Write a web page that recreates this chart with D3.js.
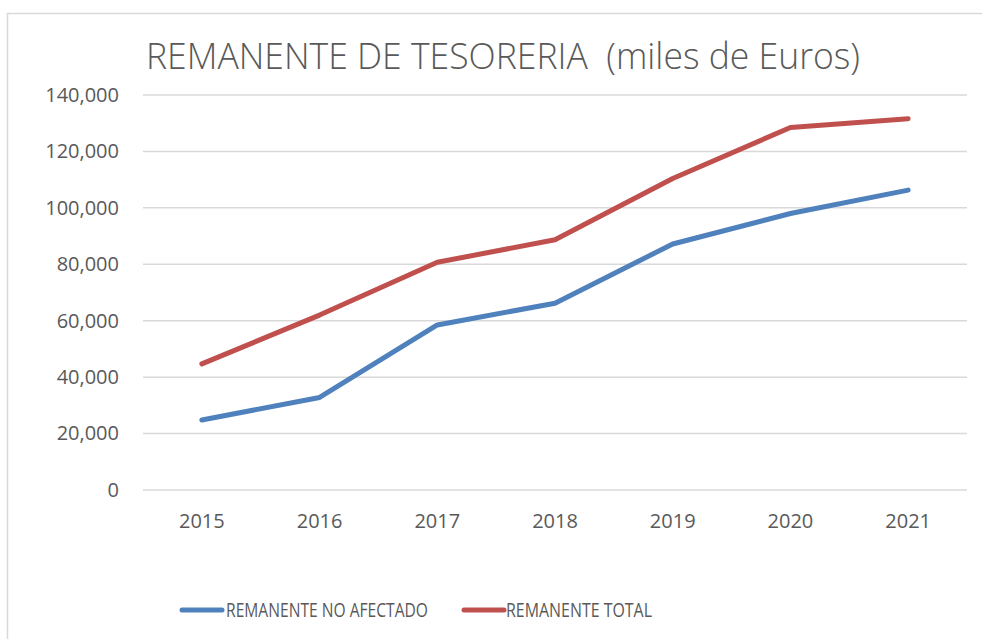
<!DOCTYPE html>
<html>
<head>
<meta charset="utf-8">
<script src="https://cdn.jsdelivr.net/npm/d3@7"></script>
<style>
  html, body { margin: 0; padding: 0; background: #fff; }
  svg { display: block; }
</style>
</head>
<body>
<svg id="chart" width="983" height="639"></svg>
<script>
const years = ["2015", "2016", "2017", "2018", "2019", "2020", "2021"];
const noAfectado = [24800, 32800, 58500, 66200, 87200, 98000, 106300];
const total = [44700, 62000, 80700, 88700, 110400, 128500, 131600];
const yTicks = [0, 20000, 40000, 60000, 80000, 100000, 120000, 140000];
const seriesNames = ["REMANENTE NO AFECTADO", "REMANENTE TOTAL"];
const seriesColors = ["#4f81bd", "#c0504d"];
const titleText = "REMANENTE DE TESORERIA  (miles de Euros)";

const svg = d3.select("#chart");

// frame
svg.append("path")
  .attr("d", "M7.5,639 L7.5,13.5 L982,13.5")
  .attr("fill", "none")
  .attr("stroke", "#d9d9d9")
  .attr("stroke-width", 1.5);

const plot = { left: 143, right: 967, top: 95, bottom: 490 };

const x = d3.scaleBand().domain(years).range([plot.left, plot.right]);
const y = d3.scaleLinear().domain([0, 140000]).range([plot.bottom, plot.top]);

// gridlines
svg.append("g")
  .selectAll("line")
  .data(yTicks)
  .join("line")
  .attr("x1", plot.left)
  .attr("x2", plot.right)
  .attr("y1", d => y(d))
  .attr("y2", d => y(d))
  .attr("stroke", "#d9d9d9")
  .attr("stroke-width", 1.5);

// y axis
const yAxis = d3.axisLeft(y).tickValues(yTicks).tickFormat(d3.format(",")).tickSize(0).tickPadding(24);
const gy = svg.append("g").attr("transform", `translate(${plot.left},0)`).call(yAxis);
gy.select(".domain").remove();
gy.selectAll("text")
  .attr("font-family", "'Open Sans', sans-serif")
  .attr("font-size", 20)
  .attr("fill", "#595959");

// x axis
const xAxis = d3.axisBottom(x).tickSize(0).tickPadding(24);
const gx = svg.append("g").attr("transform", `translate(0,${plot.bottom})`).call(xAxis);
gx.select(".domain").remove();
gx.selectAll("text")
  .attr("font-family", "'Open Sans', sans-serif")
  .attr("font-size", 20)
  .attr("fill", "#595959");

// lines
const line = d3.line()
  .x((d, i) => x(years[i]) + x.bandwidth() / 2)
  .y(d => y(d));

[noAfectado, total].forEach((s, k) => {
  svg.append("path")
    .datum(s)
    .attr("d", line)
    .attr("fill", "none")
    .attr("stroke", seriesColors[k])
    .attr("stroke-width", 5)
    .attr("stroke-linecap", "round")
    .attr("stroke-linejoin", "round");
});

// title
svg.append("text")
  .attr("x", 146)
  .attr("y", 69)
  .attr("font-family", "'Open Sans', sans-serif")
  .attr("font-weight", 300)
  .attr("font-size", 37)
  .attr("fill", "#595959")
  .attr("textLength", 714)
  .attr("lengthAdjust", "spacingAndGlyphs")
  .style("white-space", "pre")
  .text(titleText);

// legend
const legendItems = [
  { x1: 182, x2: 222, tx: 226, tw: 202 },
  { x1: 464, x2: 504, tx: 506, tw: 146 }
];
legendItems.forEach((it, k) => {
  svg.append("line")
    .attr("x1", it.x1).attr("x2", it.x2)
    .attr("y1", 610).attr("y2", 610)
    .attr("stroke", seriesColors[k])
    .attr("stroke-width", 5)
    .attr("stroke-linecap", "round");
  svg.append("text")
    .attr("x", it.tx)
    .attr("y", 617)
    .attr("font-family", "'Open Sans', sans-serif")
    .attr("font-size", 20)
    .attr("fill", "#595959")
    .attr("textLength", it.tw)
    .attr("lengthAdjust", "spacingAndGlyphs")
    .text(seriesNames[k]);
});
</script>
</body>
</html>
